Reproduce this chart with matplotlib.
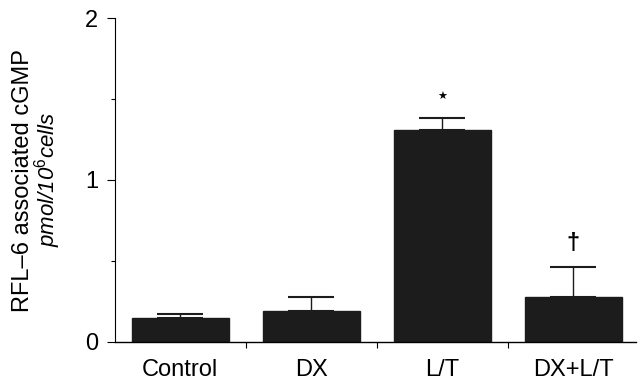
import numpy as np
import matplotlib
matplotlib.use("Agg")
import matplotlib.pyplot as plt

plt.rcParams.update({
    "font.family": "Liberation Sans",
    "font.size": 17,
    "mathtext.fontset": "custom",
    "mathtext.rm": "Liberation Sans",
    "mathtext.it": "Liberation Sans:italic",
})

groups = ["Control", "DX", "L/T", "DX+L/T"]
means = [0.15, 0.19, 1.31, 0.28]
sems = [0.02, 0.09, 0.07, 0.18]
marks = ["", "", "\u2605", "\u2020"]

BAR = "#1c1c1c"

fig = plt.figure(figsize=(6.38, 3.85), dpi=100)
ax = fig.add_axes([0.18, 0.112, 0.817, 0.841])

x = np.arange(len(groups))
ax.bar(x, means, width=0.74, color=BAR, edgecolor=BAR, zorder=2)
ax.errorbar(x, means, yerr=[np.zeros(len(sems)), sems], fmt="none",
            ecolor="#1c1c1c", elinewidth=1.0, capsize=16.5, capthick=1.5, zorder=3)

for xi, m, s, mk in zip(x, means, sems, marks):
    if mk == "\u2605":
        ax.text(xi, m + s + 0.13, mk, ha="center", va="center", fontsize=8,
                family="DejaVu Sans")
    elif mk:
        ax.text(xi, m + s + 0.15, mk, ha="center", va="center", fontsize=17,
                fontweight="bold")

ax.set_xlim(-0.5, 3.48)
ax.set_ylim(0, 2)
ax.set_yticks([0, 1, 2])
ax.set_yticks([0.5, 1.5], minor=True)
ax.tick_params(axis="y", which="major", length=6, width=0.8, pad=6, labelsize=17)
ax.tick_params(axis="y", which="minor", length=3, width=0.8)

ax.set_xticks(x)
ax.set_xticklabels(groups, fontsize=17)
ax.set_xticks([0.5, 1.5, 2.5], minor=True)
ax.tick_params(axis="x", which="major", length=0, pad=12)
ax.tick_params(axis="x", which="minor", length=4, width=0.8)

ax.spines["top"].set_visible(False)
ax.spines["right"].set_visible(False)
ax.spines["left"].set_linewidth(0.8)
ax.spines["bottom"].set_linewidth(1.0)

fig.text(0.036, 0.53, "RFL\u20136 associated cGMP", rotation=90,
         ha="center", va="center", fontsize=17)
fig.text(0.074, 0.535, r"pmol/10$^{6}$cells", rotation=90, style="italic",
         ha="center", va="center", fontsize=16)

fig.savefig("out.png", dpi=100)
